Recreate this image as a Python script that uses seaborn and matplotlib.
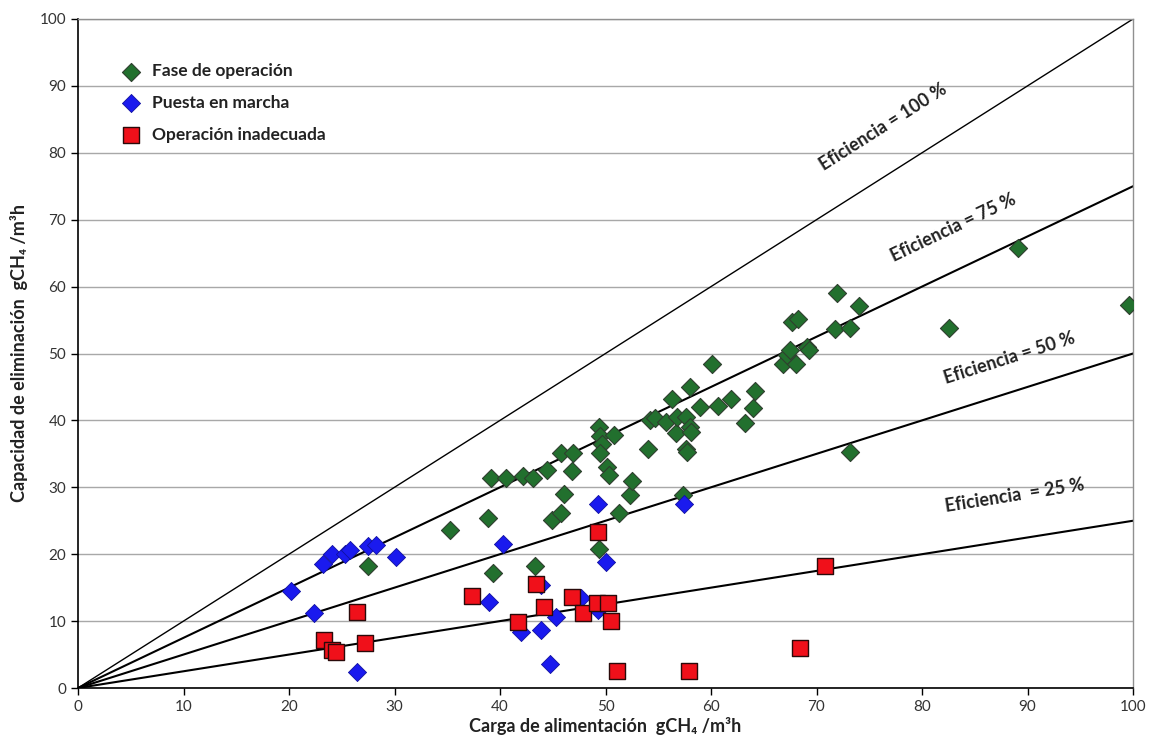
import numpy as np
import pandas as pd
import matplotlib
matplotlib.use("Agg")
import matplotlib.pyplot as plt
import seaborn as sns

# ---------------- data ----------------
fase_x = [27.5, 35.3, 38.9, 39.1, 39.3, 40.6, 42.2, 43.1, 43.3, 44.5, 44.9, 45.8, 45.8, 46.1, 46.8,
          46.9, 49.4, 49.5, 49.7, 49.5, 49.4, 50.1, 50.3, 50.8, 51.3, 52.3, 52.5, 54.0, 54.2, 54.7,
          55.7, 56.3, 56.7, 56.8, 57.3, 57.6, 57.6, 57.7, 58.0, 58.0, 58.1, 59.0, 60.1, 60.7, 61.9,
          63.2, 64.0, 64.2, 66.8, 67.2, 67.5, 67.7, 68.1, 68.2, 69.1, 69.3, 71.8, 71.9, 73.2, 73.2,
          74.0, 82.6, 89.1, 99.6]
fase_y = [18.2, 23.6, 25.4, 31.4, 17.2, 31.4, 31.7, 31.4, 18.2, 32.6, 25.1, 26.2, 35.1, 29.0, 32.4,
          35.1, 39.0, 37.7, 36.5, 35.1, 20.8, 33.0, 31.8, 37.8, 26.2, 28.8, 30.9, 35.7, 40.1, 40.4,
          39.8, 43.2, 38.1, 40.5, 28.8, 40.5, 35.7, 35.3, 45.0, 39.0, 38.3, 42.0, 48.4, 42.2, 43.2,
          39.6, 41.9, 44.4, 48.4, 49.8, 50.5, 54.7, 48.4, 55.2, 51.0, 50.5, 53.6, 59.1, 53.8, 35.3,
          57.1, 53.8, 65.8, 57.3]

puesta_x = [20.2, 22.4, 23.2, 24.1, 25.3, 25.8, 26.4, 27.5, 28.2, 30.1, 39.0, 40.3, 42.0, 43.9,
            43.9, 44.7, 45.3, 47.7, 49.3, 49.3, 50.0, 57.4]
puesta_y = [14.5, 11.2, 18.5, 20.0, 20.0, 20.6, 2.4, 21.2, 21.4, 19.6, 12.9, 21.5, 8.3, 8.7,
            15.4, 3.6, 10.6, 13.5, 11.7, 27.5, 18.8, 27.5]

inad_x = [23.3, 24.1, 24.5, 26.4, 27.2, 37.3, 41.7, 43.4, 44.2, 46.8, 47.9, 49.2, 49.3, 50.2,
          50.5, 51.1, 57.9, 68.4, 70.8]
inad_y = [7.2, 5.7, 5.4, 11.4, 6.7, 13.8, 9.9, 15.5, 12.1, 13.6, 11.2, 12.7, 23.3, 12.7,
          10.0, 2.5, 2.5, 6.0, 18.2]

series_names = ["Fase de operación", "Puesta en marcha", "Operación inadecuada"]
eficiencias = [1.00, 0.75, 0.50, 0.25]
eff_labels = ["Eficiencia = 100 %", "Eficiencia = 75 %", "Eficiencia = 50 %", "Eficiencia  = 25 %"]
x_ticks = list(range(0, 101, 10))
y_ticks = list(range(0, 101, 10))

# ---------------- style ----------------
sns.set_theme(style="white")
plt.rcParams["font.family"] = ["Lato", "DejaVu Sans"]

W, H = 1154, 749
fig = plt.figure(figsize=(W / 100, H / 100), dpi=100)
ax = fig.add_axes([78 / W, 1 - 688 / H, (1133 - 78) / W, (688 - 19) / H])

# efficiency lines
line_x = np.array([0, 100])
for e, lw in zip(eficiencias, [1.0, 1.5, 1.5, 1.5]):
    sns.lineplot(x=line_x, y=line_x * e, ax=ax, color="black", linewidth=lw, zorder=2)

df_f = pd.DataFrame({"x": fase_x, "y": fase_y})
df_p = pd.DataFrame({"x": puesta_x, "y": puesta_y})
df_i = pd.DataFrame({"x": inad_x, "y": inad_y})

sns.scatterplot(data=df_f, x="x", y="y", ax=ax, marker="D", s=85, color="#22702e",
                edgecolor="#2f3f2f", linewidth=0.8, label=series_names[0], zorder=3)
sns.scatterplot(data=df_p, x="x", y="y", ax=ax, marker="D", s=85, color="#1a1aee",
                edgecolor="#1010a0", linewidth=0.6, label=series_names[1], zorder=3)
sns.scatterplot(data=df_i, x="x", y="y", ax=ax, marker="s", s=130, color="#f0101a",
                edgecolor="#2a0a0a", linewidth=1.0, label=series_names[2], zorder=4)

# axes
ax.set_xlim(0, 100)
ax.set_ylim(0, 100)
ax.set_xticks(x_ticks)
ax.set_yticks(y_ticks)
ax.yaxis.grid(True, color="#a8a8a8", linewidth=1.0)
ax.xaxis.grid(False)
ax.set_axisbelow(True)
for s in ["left", "bottom"]:
    ax.spines[s].set_color("black")
    ax.spines[s].set_linewidth(1.2)
for s in ["top", "right"]:
    ax.spines[s].set_color("#909090")
    ax.spines[s].set_linewidth(1.0)
ax.tick_params(axis="both", direction="out", length=5, width=1, color="black",
               labelsize=11, labelcolor="#333333", bottom=True, left=True)

ax.set_xlabel("Carga de alimentación  gCH₄ /m³h", fontsize=13, fontweight="bold",
              color="#222222", labelpad=2)
ax.set_ylabel("Capacidad de eliminación  gCH₄ /m³h", fontsize=13, fontweight="bold",
              color="#222222", labelpad=8)

# efficiency labels
ax.figure.canvas.draw()
label_pos = [(76.3, 83.9), (83.0, 68.8), (88.3, 49.3), (88.8, 28.7)]
for e, txt, (lx, ly) in zip(eficiencias, eff_labels, label_pos):
    p1 = ax.transData.transform((0, 0))
    p2 = ax.transData.transform((100, 100 * e))
    ang = np.degrees(np.arctan2(p2[1] - p1[1], p2[0] - p1[0]))
    ax.text(lx, ly, txt, rotation=ang, rotation_mode="anchor", ha="center", va="center",
            fontsize=13, fontweight="bold", color="#222222", zorder=5)

leg = ax.legend(loc="upper left", bbox_to_anchor=(0.022, 0.952), frameon=False,
                prop={"size": 12.5, "weight": "bold"}, handletextpad=0.2,
                labelspacing=0.9, borderaxespad=0.3)
for t in leg.get_texts():
    t.set_color("#222222")

fig.savefig("out.png", dpi=100)
